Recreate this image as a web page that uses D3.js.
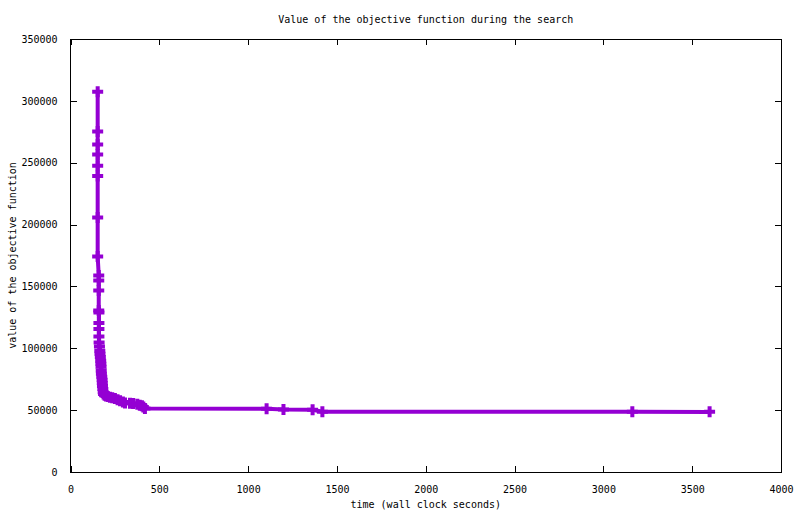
<!DOCTYPE html>
<html>
<head>
<meta charset="utf-8">
<script src="https://cdn.jsdelivr.net/npm/d3@7"></script>
<style>
  body { margin: 0; background: #fff; }
  text { font-family: "DejaVu Sans Mono", monospace; font-size: 10px; fill: #000; }
</style>
</head>
<body>
<div id="chart-area"></div>
<script>
// search time (s) and best objective value found
var times = [153, 153, 153, 153, 153, 153, 153, 153,
  159, 159, 159, 159, 160, 160, 160, 160, 161, 163, 165, 166, 168, 170, 171, 172, 173, 174,
  176, 178, 179, 180, 182, 184, 186, 192, 200, 210, 222, 235, 250, 265, 279, 295, 307,
  335, 353, 376, 390, 402, 410, 419, 1104, 1199, 1363, 1418, 3163, 3598];
var values = [307300, 275300, 264800, 256700, 247500, 239200, 205800, 174200,
  158900, 154800, 146800, 130600, 129000, 120400, 115600, 109600, 104700, 101500, 98000, 95500,
  93000, 90000, 87500, 85000, 82000, 79500, 77000, 74500, 72000, 69500, 67000, 64500, 63000,
  62000, 61500, 61000, 60500, 60000, 59500, 58500, 57500, 56500, 55800, 55500, 55300, 54800,
  54000, 53500, 52500, 51300, 51200, 50500, 50300, 48800, 48700, 48600];
var xTicks = [0, 500, 1000, 1500, 2000, 2500, 3000, 3500, 4000];
var yTicks = [0, 50000, 100000, 150000, 200000, 250000, 300000, 350000];

var data = times.map((t, i) => { return {t: t, v: values[i]}; });

var margin = {top: 39, right: 19, bottom: 42, left: 70.5};
var width = 800 - margin.left - margin.right;
var height = 514 - margin.top - margin.bottom;

var svg = d3.select("#chart-area").append("svg").attr("width", 800).attr("height", 514);
var g = svg.append("g").attr("transform", "translate(" + margin.left + ", " + margin.top + ")");

var x = d3.scaleLinear().domain([0, 4000]).range([0, width]);
var y = d3.scaleLinear().domain([0, 350000]).range([height, 0]);

// ticks drawn inward on all four sides, gnuplot style
g.append("g").attr("transform", "translate(0, " + height + ")")
  .call(d3.axisBottom(x).tickValues(xTicks).tickSizeInner(-6).tickSizeOuter(0).tickPadding(14).tickFormat(d3.format("d")));
g.append("g")
  .call(d3.axisTop(x).tickValues(xTicks).tickSizeInner(-6).tickSizeOuter(0).tickFormat(""));
g.append("g")
  .call(d3.axisLeft(y).tickValues(yTicks).tickSizeInner(-6).tickSizeOuter(0).tickPadding(13).tickFormat(d3.format("d")));
g.append("g").attr("transform", "translate(" + width + ", 0)")
  .call(d3.axisRight(y).tickValues(yTicks).tickSizeInner(-6).tickSizeOuter(0).tickFormat(""));

g.selectAll(".domain").remove();
g.selectAll(".tick line").attr("stroke", "#000").attr("shape-rendering", "crispEdges");
g.selectAll(".tick text").style("font-family", "DejaVu Sans Mono, monospace").style("font-size", "10px");

g.append("rect").attr("x", 0).attr("y", 0).attr("width", width).attr("height", height)
  .attr("fill", "none").attr("stroke", "#000").attr("shape-rendering", "crispEdges");

var line = d3.line().x((d) => { return x(d.t); }).y((d) => { return y(d.v); });
g.append("path").datum(data).attr("d", line).attr("fill", "none")
  .attr("stroke", "#9400d3").attr("stroke-width", 4).attr("stroke-linejoin", "miter");

g.selectAll(".pt").data(data).enter().append("path").attr("class", "pt")
  .attr("transform", (d) => { return "translate(" + x(d.t) + "," + y(d.v) + ")"; })
  .attr("d", "M-5.5,0H5.5M0,-5.5V5.5")
  .attr("stroke", "#9400d3").attr("stroke-width", 4).attr("fill", "none");

svg.append("text").attr("x", margin.left + width / 2).attr("y", 23).attr("text-anchor", "middle")
  .text("Value of the objective function during the search");
svg.append("text").attr("x", margin.left + width / 2).attr("y", 508).attr("text-anchor", "middle")
  .text("time (wall clock seconds)");
svg.append("text").attr("transform", "translate(16, " + (margin.top + height / 2) + ") rotate(-90)")
  .attr("text-anchor", "middle").text("value of the objective function");
</script>
</body>
</html>
